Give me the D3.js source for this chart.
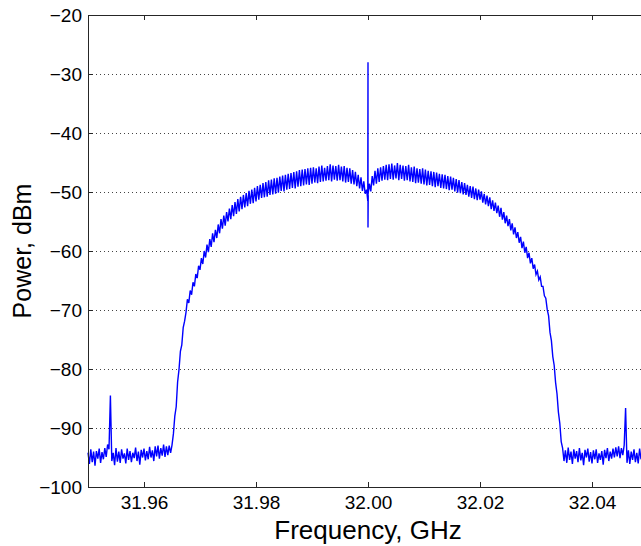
<!DOCTYPE html>
<html>
<head>
<meta charset="utf-8">
<script src="https://cdn.jsdelivr.net/npm/d3@7"></script>
<style>
body { margin: 0; background: #fff; }
svg { display: block; font-family: "Liberation Sans", Arial, sans-serif; }
</style>
</head>
<body>
<div id="chart"></div>
<script>
// spectrum trace, sampled every 0.25 MHz from 31.95 GHz
var freqStart = 31.95,
    freqStep = 0.00025;

var power = [
  // 0
  -94.2, -96.1, -93.6, -95.8, -94.0, -96.4, -93.9, -95.2, -93.5, -95.9,
  -94.1, -95.3, -93.4, -94.9, -92.8, -93.6, -84.5, -95.6, -94.2, -96.3,
  -93.4, -95.7, -94.0, -95.9, -93.6, -95.2, -94.3, -96.0, -93.5, -95.4,
  -93.9, -95.8, -94.2, -95.1, -93.3, -95.6, -94.0, -96.2, -93.7, -95.0,
  -93.5, -95.5, -93.9, -95.3, -93.2, -95.0, -93.8, -95.6, -93.1, -94.8,
  // 50
  -93.0, -95.2, -93.4, -94.7, -92.8, -94.9, -93.1, -94.6, -93.0, -94.2,
  -92.9, -91.0, -88.0, -86.4, -82.2, -80.1, -77.0, -75.9, -73.0, -71.9,
  -70.4, -68.2, -68.8, -66.7, -67.4, -65.3, -66.0, -63.9, -64.6, -62.5,
  -63.2, -61.2, -62.2, -60.0, -61.1, -58.9, -60.2, -58.0, -59.3, -57.0,
  -58.5, -56.4, -57.8, -55.5, -57.0, -54.6, -56.2, -54.0, -55.7, -53.4,
  // 100
  -55.0, -52.8, -54.6, -52.2, -54.1, -51.7, -53.7, -51.2, -53.3, -50.8,
  -52.9, -50.5, -52.6, -50.2, -52.4, -49.8, -52.0, -49.6, -51.9, -49.3,
  -51.6, -49.0, -51.3, -48.8, -51.0, -48.5, -50.9, -48.3, -50.8, -48.0,
  -50.5, -47.9, -50.4, -47.7, -50.3, -47.6, -50.1, -47.4, -49.8, -47.2,
  -49.9, -47.1, -49.6, -46.9, -49.5, -46.8, -49.3, -46.6, -49.4, -46.5,
  // 150
  -49.1, -46.3, -49.0, -46.2, -48.9, -46.1, -48.7, -46.0, -48.8, -45.9,
  -48.6, -45.8, -48.4, -46.0, -48.5, -45.7, -48.3, -45.5, -48.2, -45.9,
  -48.1, -45.6, -48.0, -45.3, -48.2, -45.5, -47.9, -45.6, -48.1, -45.4,
  -48.0, -45.7, -48.2, -45.6, -48.4, -45.9, -48.3, -46.0, -48.6, -46.3,
  -48.7, -46.6, -49.0, -47.1, -49.4, -47.5, -49.8, -48.2, -50.3, -49.6,
  // 200
  -50.5, -48.6, -49.9, -47.3, -48.9, -46.4, -48.6, -46.0, -48.3, -45.8,
  -48.1, -45.6, -47.9, -45.4, -48.0, -45.3, -47.8, -45.2, -47.9, -45.5,
  -47.7, -45.1, -48.0, -45.4, -47.8, -45.5, -48.1, -45.6, -48.0, -45.4,
  -48.2, -45.8, -48.3, -45.7, -48.5, -46.0, -48.4, -46.1, -48.6, -46.0,
  -48.7, -46.2, -48.9, -46.4, -48.8, -46.5, -49.0, -46.6, -49.2, -46.7,
  // 250
  -49.0, -46.9, -49.3, -47.0, -49.4, -47.1, -49.5, -47.3, -49.7, -47.4,
  -49.6, -47.6, -49.9, -47.8, -50.1, -48.0, -50.2, -48.3, -50.4, -48.5,
  -50.5, -48.8, -50.8, -49.0, -51.0, -49.1, -51.2, -49.4, -51.4, -49.6,
  -51.3, -49.9, -51.8, -50.3, -52.1, -50.6, -52.4, -50.9, -52.9, -51.4,
  -53.2, -51.8, -53.6, -52.3, -54.2, -52.7, -54.7, -53.4, -55.3, -54.0,
  // 300
  -55.8, -54.6, -56.5, -55.3, -57.2, -56.0, -57.8, -56.8, -58.6, -57.6,
  -59.5, -58.4, -60.3, -59.3, -61.2, -60.3, -62.1, -61.2, -63.0, -62.3,
  -64.0, -63.4, -64.9, -64.4, -66.0, -66.0, -67.6, -68.0, -69.9, -71.0,
  -73.8, -75.2, -77.9, -79.4, -82.3, -84.2, -87.3, -89.2, -92.3, -93.4,
  -95.6, -93.8, -95.9, -93.3, -95.4, -94.0, -96.1, -93.6, -95.2, -93.9,
  // 350
  -95.8, -93.4, -95.5, -94.2, -96.3, -93.7, -95.0, -93.5, -95.7, -94.1,
  -96.0, -93.8, -95.3, -93.6, -95.9, -94.3, -95.4, -93.9, -96.2, -93.7,
  -95.1, -93.4, -95.6, -94.0, -95.2, -93.5, -95.0, -93.3, -94.8, -93.1,
  -95.1, -93.4, -94.6, -92.9, -86.6, -95.9, -93.8, -96.1, -94.0, -95.4,
  -93.6, -95.8, -94.2, -96.0, -93.5, -95.3, -94.1, -96.2, -93.8, -95.5,
  // 400
  -94.3
];

// carrier feedthrough at the centre: [GHz, dBm]
var carrier = [
  [31.99996, -51.5], [32.0, -28.0], [32.0, -42.0], [32.0, -56.0], [32.00004, -50.6]
];

var xTicks = [31.96, 31.98, 32.00, 32.02, 32.04];
var yTicks = [-100, -90, -80, -70, -60, -50, -40, -30, -20];

var margin = {top: 15, left: 88},
    plotW = 560,
    plotH = 472;

var svg = d3.select("#chart").append("svg")
    .attr("width", 641)
    .attr("height", 546);

var x = d3.scaleLinear().domain([31.95, 32.05]).range([margin.left, margin.left + plotW]);
var y = d3.scaleLinear().domain([-100, -20]).range([margin.top + plotH, margin.top]);

// build trace points, carrier spike spliced in after the centre sample
var pts = power.map(function(p, i) { return [freqStart + i * freqStep, p]; });
var mid = pts.findIndex(function(d) { return d[0] >= 32.0 - 1e-9; });
pts = pts.slice(0, mid).concat(carrier, pts.slice(mid));

// horizontal dotted grid
svg.append("g").selectAll("line")
    .data(yTicks.filter(function(d) { return d > -100 && d < -20; }))
  .enter().append("line")
    .attr("x1", margin.left).attr("x2", margin.left + plotW)
    .attr("y1", function(d) { return y(d); })
    .attr("y2", function(d) { return y(d); })
    .attr("stroke", "#444")
    .attr("stroke-width", 1)
    .attr("stroke-dasharray", "1,3")
    .attr("shape-rendering", "crispEdges");

var line = d3.line()
    .x(function(d) { return x(d[0]); })
    .y(function(d) { return y(d[1]); });

svg.append("path")
    .datum(pts)
    .attr("fill", "none")
    .attr("stroke", "#0000ff")
    .attr("stroke-width", 1.4)
    .attr("d", line);

// axes box, MATLAB style inward ticks
function styleAxis(g) {
  g.select(".domain").attr("stroke", "#262626").attr("shape-rendering", "crispEdges");
  g.selectAll(".tick line").attr("stroke", "#262626").attr("shape-rendering", "crispEdges");
  g.selectAll(".tick text").attr("fill", "#000")
    .style("font-family", "'Liberation Sans', Arial, sans-serif")
    .style("font-size", "19px");
}

svg.append("g")
    .attr("transform", "translate(0," + (margin.top + plotH) + ")")
    .call(d3.axisBottom(x).tickValues(xTicks).tickFormat(d3.format(".2f"))
      .tickSizeInner(-5).tickSizeOuter(0).tickPadding(9))
    .call(styleAxis);

svg.append("g")
    .attr("transform", "translate(0," + margin.top + ")")
    .call(d3.axisTop(x).tickValues(xTicks).tickFormat("")
      .tickSizeInner(-5).tickSizeOuter(0))
    .call(styleAxis);

svg.append("g")
    .attr("transform", "translate(" + margin.left + ",0)")
    .call(d3.axisLeft(y).tickValues(yTicks).tickFormat(d3.format("d"))
      .tickSizeInner(-5).tickSizeOuter(0).tickPadding(6))
    .call(styleAxis);

svg.append("g")
    .attr("transform", "translate(" + (margin.left + plotW) + ",0)")
    .call(d3.axisRight(y).tickValues(yTicks).tickFormat("")
      .tickSizeInner(-5).tickSizeOuter(0))
    .call(styleAxis);

// axis titles
svg.append("text")
    .attr("x", margin.left + plotW / 2)
    .attr("y", 539)
    .attr("text-anchor", "middle")
    .style("font-size", "26px")
    .text("Frequency, GHz");

svg.append("text")
    .attr("transform", "translate(31," + (margin.top + plotH / 2) + ") rotate(-90)")
    .attr("text-anchor", "middle")
    .style("font-size", "25px")
    .text("Power, dBm");
</script>
</body>
</html>
